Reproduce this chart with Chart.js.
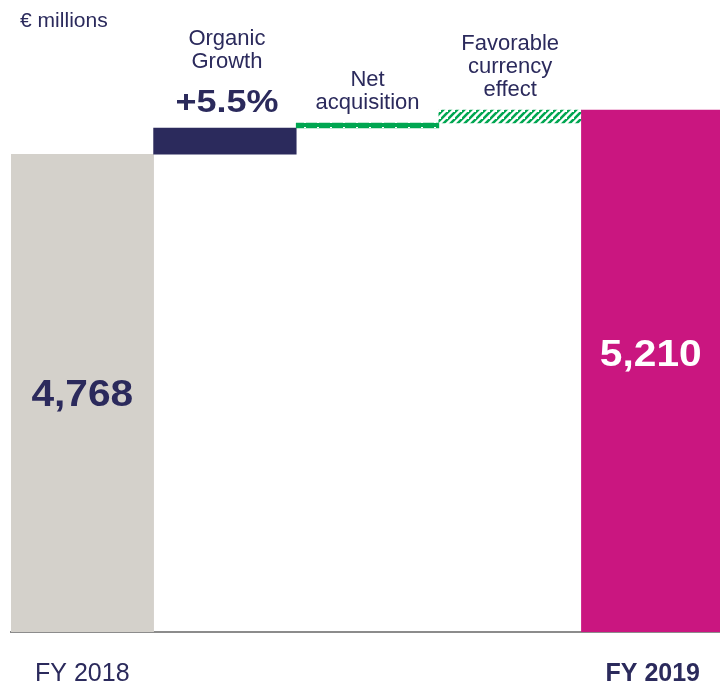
<!DOCTYPE html>
<html><head><meta charset="utf-8">
<script src="https://cdn.jsdelivr.net/npm/chart.js@4/dist/chart.umd.min.js"></script>
<style>
html,body{margin:0;padding:0;overflow:hidden;background:#fff;width:720px;height:685px}
#wrap{position:relative;width:727px;height:685px}
</style></head>
<body><div id="wrap"><canvas id="c"></canvas></div>
<script>
const categories = ['FY 2018', 'Organic Growth', 'Net acquisition', 'Favorable currency effect', 'FY 2019'];
const tickLabels = ['FY 2018', '', '', '', 'FY 2019'];
const openingTotal = 4768;
const bridgeSteps = [262, 50, 130];   // organic growth, net acquisition, currency effect
const closingTotal = 5210;
const valueLabels = ['4,768', '', '', '', '5,210'];
const headerLabels = [[], ['Organic', 'Growth'], ['Net', 'acquisition'], ['Favorable', 'currency', 'effect'], []];
const growthLabel = '+5.5%';
const unitLabel = '€ millions';

const NAVY = '#2B2A5C', GREY = '#D4D1CB', MAGENTA = '#CA1680', GREEN = '#00A651';
const FONT = "'Liberation Sans', Arial, Helvetica, sans-serif";

function makeDotPattern() {
  const c = document.createElement('canvas'); c.width = 13; c.height = 5;
  const x = c.getContext('2d');
  x.fillStyle = GREEN; x.fillRect(0, 0, 13, 5);
  x.fillStyle = '#fff'; x.fillRect(5, 2, 2, 1);
  return x.createPattern(c, 'repeat');
}
function makeHatchPattern() {
  const s = 7;
  const c = document.createElement('canvas'); c.width = s; c.height = s;
  const x = c.getContext('2d');
  x.fillStyle = '#fff'; x.fillRect(0, 0, s, s);
  x.strokeStyle = GREEN; x.lineWidth = 2.6;
  x.beginPath();
  x.moveTo(-1, s + 1); x.lineTo(s + 1, -1);
  x.moveTo(-s - 1, s + 1); x.lineTo(1, -1);
  x.moveTo(s - 1, 2 * s + 1); x.lineTo(2 * s + 1, s - 1);
  x.stroke();
  return x.createPattern(c, 'repeat');
}

// floating bars built from the data arrays
const floating = [[0, openingTotal]];
let running = openingTotal;
for (const step of bridgeSteps) { floating.push([running, running + step]); running += step; }
floating.push([0, closingTotal]);

const colors = [GREY, NAVY, makeDotPattern(), makeHatchPattern(), MAGENTA];

function txt(ctx, s, x, y, font, color, sx, align) {
  ctx.save();
  ctx.translate(x, y); ctx.scale(sx || 1, 1);
  ctx.font = font; ctx.fillStyle = color;
  ctx.textAlign = align || 'center'; ctx.textBaseline = 'alphabetic';
  ctx.fillText(s, 0, 0);
  ctx.restore();
}

const annotations = {
  id: 'annotations',
  afterDatasetsDraw(chart) {
    const ctx = chart.ctx;
    const meta = chart.getDatasetMeta(0);
    txt(ctx, unitLabel, 20, 27, '19.5px ' + FONT, NAVY, 1.08, 'left');
    meta.data.forEach((el, i) => {
      const lines = headerLabels[i];
      if (i === 1) {
        txt(ctx, growthLabel, el.x + 2, el.y - 16, 'bold 31px ' + FONT, NAVY, 1.16);
        txt(ctx, lines[1], el.x + 2, el.y - 60, '22px ' + FONT, NAVY);
        txt(ctx, lines[0], el.x + 2, el.y - 83, '22px ' + FONT, NAVY);
      } else if (lines.length) {
        const last = el.y - 14.5;
        lines.forEach((l, k) => {
          txt(ctx, l, el.x, last - (lines.length - 1 - k) * 22.6, '22px ' + FONT, NAVY);
        });
      }
    });
    const a = meta.data[0], b = meta.data[4];
    txt(ctx, valueLabels[0], a.x, 406, 'bold 36px ' + FONT, NAVY, 1.13);
    txt(ctx, valueLabels[4], b.x - 2, 366, 'bold 36px ' + FONT, '#FFFFFF', 1.13);
  }
};

new Chart(document.getElementById('c'), {
  type: 'bar',
  data: {
    labels: categories,
    datasets: [{
      data: floating,
      backgroundColor: colors,
      borderWidth: 0,
      barPercentage: 1,
      categoryPercentage: 1
    }]
  },
  options: {
    responsive: true,
    maintainAspectRatio: false,
    animation: false,
    layout: { padding: { left: 11, right: 0, top: 0, bottom: 0 } },
    plugins: { legend: { display: false }, tooltip: { enabled: false } },
    scales: {
      y: { display: false, min: 0, max: 6308 },
      x: {
        grid: { display: false, drawTicks: false },
        border: { display: true, color: '#8C8C8C', width: 2 },
        afterFit(scale) { scale.height = 53; },
        ticks: {
          padding: 27,
          color: NAVY,
          autoSkip: false,
          maxRotation: 0,
          callback: (v, i) => tickLabels[i],
          font: (c) => ({ family: FONT, size: 25, weight: c.index === 4 ? 'bold' : 'normal' })
        }
      }
    }
  },
  plugins: [annotations]
});
</script>
</body></html>
